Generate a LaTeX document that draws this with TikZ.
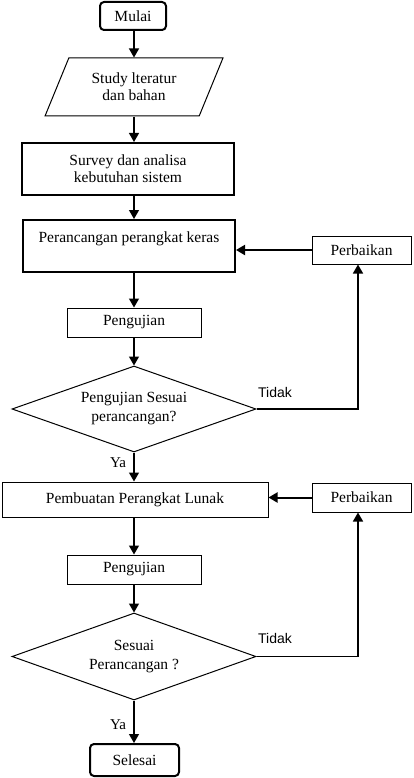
\documentclass[tikz,border=0pt]{standalone}
\usepackage{fontspec}
\setmainfont{Liberation Serif}
\newfontfamily\labelsans{Liberation Sans}
\usetikzlibrary{shapes.geometric,arrows.meta}
\begin{document}
\begin{tikzpicture}[x=1pt,y=-1pt,
  every node/.style={font=\fontsize{15.5}{17}\selectfont, align=center, inner sep=0pt},
  thinbox/.style={draw, line width=1pt, rectangle},
  thickbox/.style={draw, line width=2pt, rectangle},
  termbox/.style={draw, line width=2pt, rectangle, rounded corners=4pt},
  decision/.style={draw, line width=1pt, diamond, aspect=2.84, font=\fontsize{15.5}{19}\selectfont},
  arr/.style={line width=1.2pt, -{Triangle[length=9pt,width=10pt]}},
  harr/.style={line width=2pt, -{Triangle[length=9pt,width=10pt]}},
  looparr/.style={line width=1.5pt, -{Triangle[length=9pt,width=10pt]}},
  yalabel/.style={font=\fontsize{15}{17}\selectfont},
  tidaklabel/.style={font=\labelsans\fontsize{14}{17}\selectfont}]
\useasboundingbox (0,0) rectangle (414,778);
\coordinate (axis) at (134,0);
\node[termbox, minimum width=66, minimum height=28] (mulai) at (133,16) {Mulai};
\node[draw, line width=1pt, trapezium, trapezium left angle=61, trapezium right angle=119,
      trapezium stretches=true, minimum width=178, minimum height=58] (study) at (134,87)
      {Study lteratur\\dan bahan};
\node[thickbox, minimum width=212, minimum height=52] (survey) at (128,169)
      {Survey dan analisa\\kebutuhan sistem};
\node[thickbox, minimum width=212, minimum height=52,
      label={[anchor=north, yshift=-13pt]north:Perancangan perangkat keras}] (rancang) at (129,246) {};
\node[thinbox, minimum width=99, minimum height=28] (perb1) at (361.5,250) {Perbaikan};
\node[thinbox, minimum width=134, minimum height=29] (uji1) at (134,322.5) {Pengujian};
\node[decision, minimum width=244, minimum height=86] (d1) at (134,409)
      {Pengujian Sesuai\\perancangan?};
\node[thinbox, minimum width=266, minimum height=35] (buat) at (135,499.5)
      {Pembuatan Perangkat Lunak};
\node[thinbox, minimum width=99, minimum height=29] (perb2) at (361.5,497.5) {Perbaikan};
\node[thinbox, minimum width=134, minimum height=29] (uji2) at (134,569.5) {Pengujian};
\node[decision, minimum width=244, minimum height=87] (d2) at (134,656.5)
      {Sesuai\\Perancangan ?};
\node[termbox, minimum width=89, minimum height=32] (selesai) at (134.5,760) {Selesai};
\node[tidaklabel] (t1) at (275,392) {Tidak};
\node[tidaklabel] (t2) at (275,638) {Tidak};
\node[yalabel] (y1) at (118,463) {Ya};
\node[yalabel] (y2) at (118,725) {Ya};
\draw[arr] (mulai.south -| axis) -- (study.north -| axis);
\draw[arr] (study.south -| axis) -- (survey.north -| axis);
\draw[arr] (survey.south -| axis) -- (rancang.north -| axis);
\draw[arr] (rancang.south -| axis) -- (uji1.north -| axis);
\draw[arr] (uji1.south -| axis) -- (d1.north -| axis);
\draw[arr] (d1.south -| axis) -- (buat.north -| axis);
\draw[arr] (buat.south -| axis) -- (uji2.north -| axis);
\draw[arr] (uji2.south -| axis) -- (d2.north -| axis);
\draw[arr] (d2.south -| axis) -- (selesai.north -| axis);
\draw[harr] (perb1.west) -- (rancang.east |- perb1.west);
\draw[harr] (perb2.west) -- (buat.east |- perb2.west);
\draw[looparr] (d1.east) -| ([xshift=-3.5pt]perb1.south);
\draw[looparr] (d2.east) -| ([xshift=-3.5pt]perb2.south);
\end{tikzpicture}
\end{document}
